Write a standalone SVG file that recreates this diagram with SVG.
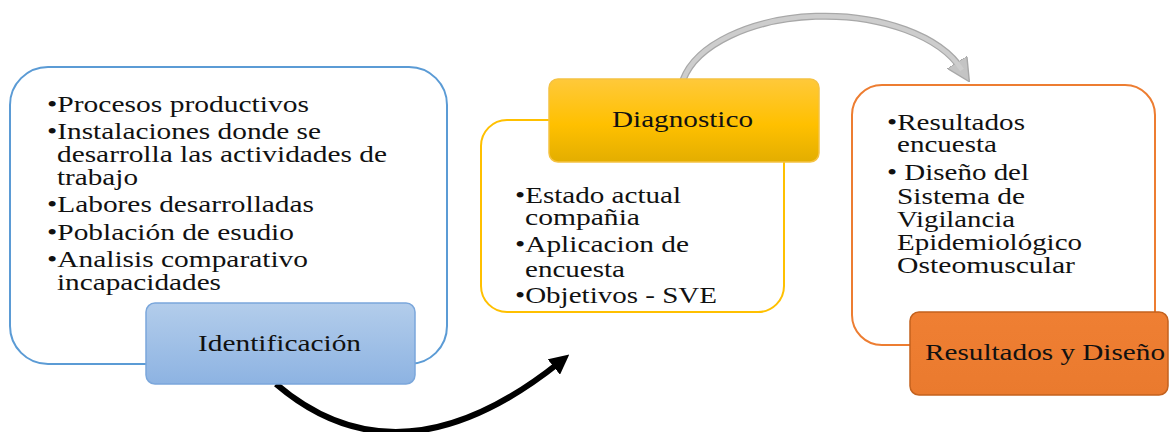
<svg xmlns="http://www.w3.org/2000/svg" width="1170" height="432" viewBox="0 0 1170 432">
<defs>
<style>
text{font-family:'Times New Roman','Liberation Serif',Tinos,'DejaVu Serif',serif;font-size:23px;fill:#111;}
.outer{fill:#fff;stroke-width:2;}
</style>
<linearGradient id="gBlue" x1="0" y1="0" x2="0" y2="1"><stop offset="0" stop-color="#B3CDEB"/><stop offset="1" stop-color="#8DB3E2"/></linearGradient>
<linearGradient id="gYel" x1="0" y1="0" x2="0" y2="1"><stop offset="0" stop-color="#FFC93A"/><stop offset="0.55" stop-color="#FFC000"/><stop offset="1" stop-color="#E3AE00"/></linearGradient>
<linearGradient id="gOr" x1="0" y1="0" x2="0" y2="1"><stop offset="0" stop-color="#EF7F33"/><stop offset="1" stop-color="#EA7A2E"/></linearGradient>
<marker id="mBlack" viewBox="0 0 10 10" refX="4" refY="5" markerWidth="3.3" markerHeight="3.3" orient="auto" markerUnits="strokeWidth"><path d="M0,0 L10,5 L0,10 z" fill="#000"/></marker>
<marker id="mGray" viewBox="0 0 10 10" refX="4" refY="5" markerWidth="3.3" markerHeight="3.3" orient="auto" markerUnits="strokeWidth"><path d="M0,0 L10,5 L0,10 z" fill="#C4C4C4" stroke="#A8A8A8" stroke-width="0.6"/></marker>
</defs>
<rect width="1170" height="432" fill="#fff"/>
<g id="connectors">
<path d="M276 384 Q 400 490 560 362" fill="none" stroke="#000" stroke-width="6" marker-end="url(#mBlack)"/>
<path d="M683 80 A 145 80 0 0 1 962 70" fill="none" stroke="#A8A8A8" stroke-width="7" marker-end="url(#mGray)"/>
<path d="M683 80 A 145 80 0 0 1 962 70" fill="none" stroke="#CDCDCD" stroke-width="4.5"/>
</g>
<g id="identificacion" font-family="Liberation Serif, serif">
<rect class="outer" x="10" y="67" width="437" height="297" rx="38" stroke="#5B9BD5"/>
<text x="47" y="112" textLength="262" lengthAdjust="spacingAndGlyphs">•Procesos productivos</text>
<text x="47" y="139" textLength="274" lengthAdjust="spacingAndGlyphs">•Instalaciones donde se</text>
<text x="57" y="162" textLength="330" lengthAdjust="spacingAndGlyphs">desarrolla las actividades de</text>
<text x="57" y="185" textLength="81" lengthAdjust="spacingAndGlyphs">trabajo</text>
<text x="47" y="212" textLength="267" lengthAdjust="spacingAndGlyphs">•Labores desarrolladas</text>
<text x="47" y="240" textLength="247" lengthAdjust="spacingAndGlyphs">•Población de esudio</text>
<text x="47" y="267" textLength="261" lengthAdjust="spacingAndGlyphs">•Analisis comparativo</text>
<text x="57" y="290" textLength="164" lengthAdjust="spacingAndGlyphs">incapacidades</text>
<rect x="146" y="303" width="269" height="81" rx="9" fill="url(#gBlue)" stroke="#7BA7DB" stroke-width="1.5"/>
<text x="198" y="351" textLength="163" lengthAdjust="spacingAndGlyphs">Identificación</text>
</g>
<g id="diagnostico">
<rect class="outer" x="481" y="120" width="303" height="192" rx="26" stroke="#FFC000"/>
<text x="515" y="203" textLength="166" lengthAdjust="spacingAndGlyphs">•Estado actual</text>
<text x="525" y="225" textLength="115" lengthAdjust="spacingAndGlyphs">compañia</text>
<text x="515" y="252" textLength="174" lengthAdjust="spacingAndGlyphs">•Aplicacion de</text>
<text x="525" y="277" textLength="100" lengthAdjust="spacingAndGlyphs">encuesta</text>
<text x="515" y="303" textLength="202" lengthAdjust="spacingAndGlyphs">•Objetivos - SVE</text>
<rect x="549" y="79" width="270" height="83" rx="9" fill="url(#gYel)" stroke="#F5C242" stroke-width="1.5"/>
<text x="612" y="127" textLength="141" lengthAdjust="spacingAndGlyphs">Diagnostico</text>
</g>
<g id="resultados">
<rect class="outer" x="852" y="85" width="303" height="260" rx="30" stroke="#ED7D31"/>
<text x="887" y="130" textLength="138" lengthAdjust="spacingAndGlyphs">•Resultados</text>
<text x="897" y="152" textLength="100" lengthAdjust="spacingAndGlyphs">encuesta</text>
<text x="887" y="180" textLength="142" lengthAdjust="spacingAndGlyphs">• Diseño del</text>
<text x="897" y="204" textLength="128" lengthAdjust="spacingAndGlyphs">Sistema de</text>
<text x="897" y="227" textLength="118" lengthAdjust="spacingAndGlyphs">Vigilancia</text>
<text x="897" y="250" textLength="185" lengthAdjust="spacingAndGlyphs">Epidemiológico</text>
<text x="897" y="273" textLength="178" lengthAdjust="spacingAndGlyphs">Osteomuscular</text>
<rect x="910" y="312" width="258" height="83" rx="9" fill="url(#gOr)" stroke="#C4621E" stroke-width="1.5"/>
<text x="925" y="360" textLength="240" lengthAdjust="spacingAndGlyphs">Resultados y Diseño</text>
</g>
</svg>
